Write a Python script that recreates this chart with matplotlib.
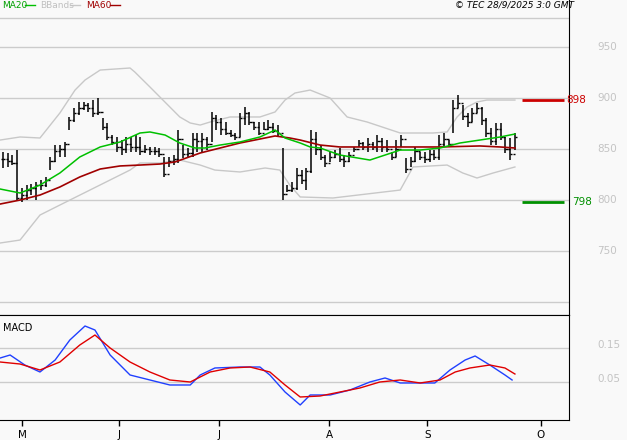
import matplotlib
matplotlib.use("Agg")
import matplotlib.pyplot as plt
import numpy as np

# ---- data ----
highs = [847.3,845.7,844.0,849.0,811.4,814.6,816.2,817.9,819.5,822.8,842.4,853.8,853.8,857.1,881.6,889.8,896.4,896.4,894.7,898.0,
         899.6,880.0,875.1,863.7,862.0,858.8,862.0,862.0,863.7,862.0,853.8,852.2,852.2,850.6,842.4,842.4,844.0,868.6,853.8,850.6,
         865.3,865.3,865.3,862.0,886.5,883.3,880.0,876.7,868.6,865.3,884.9,891.4,886.5,876.7,876.7,876.7,878.4,875.1,873.5,850.6,
         814.6,817.9,831.0,829.3,831.0,868.6,867.0,853.8,844.0,847.3,849.0,850.6,844.0,847.3,852.2,858.8,857.1,860.4,857.1,863.7,
         860.4,858.8,847.3,858.8,863.7,840.8,842.4,852.2,847.3,847.3,849.0,849.0,863.7,865.3,858.8,898.0,902.9,893.1,884.9,889.8,
         894.7,891.4,880.0,870.2,875.1,875.1,862.0,860.4,865.3]
lows = [831.0,832.6,834.2,800.0,798.3,800.0,804.8,800.0,809.7,813.0,829.3,837.5,842.4,842.4,868.6,876.7,883.3,888.2,886.5,881.6,
        883.3,868.6,858.8,853.8,847.3,844.0,845.7,847.3,847.3,844.0,845.7,844.0,844.0,842.4,822.8,832.6,834.2,835.9,840.8,842.4,
        842.4,847.3,847.3,849.0,857.1,868.6,863.7,863.7,862.0,858.8,862.0,873.5,873.5,868.6,863.7,868.6,868.6,865.3,862.0,800.0,
        808.1,808.1,809.7,816.2,809.7,826.1,844.0,839.2,832.6,837.5,840.8,837.5,832.6,837.5,847.3,852.2,849.0,847.3,849.0,847.3,
        847.3,847.3,839.2,842.4,852.2,826.1,832.6,837.5,839.2,835.9,837.5,839.2,839.2,852.2,852.2,865.3,889.8,878.4,871.9,876.7,
        884.9,873.5,862.0,853.8,853.8,858.8,845.7,839.2,849.0]
closes = [840,838,836,802,805,810,812,815,815,820,838,848,850,855,878,885,890,893,890,885,
          886,872,862,857,852,850,855,852,852,848,850,848,848,845,826,838,840,860,845,846,
          860,858,860,855,880,876,870,866,864,862,880,885,876,872,866,870,872,868,866,806,
          810,812,825,820,828,860,850,842,836,842,845,840,838,844,850,856,852,855,852,858,
          852,850,842,850,860,830,838,848,842,840,845,842,855,860,855,890,895,882,876,885,
          890,878,866,858,870,862,850,845,862]

line_x = [-0.6,3.6,7.8,12.0,16.2,20.5,24.7,28.9,31.0,34.2,37.3,40.5,42.6,45.8,50.0,54.2,57.4,59.5,62.7,64.8,
          66.9,71.1,77.4,80.6,83.8,88.0,92.2,96.4,100.6,104.9,108.0]
ma20 = [810.8,806.9,814.7,826.5,842.2,852.0,856.9,865.7,866.7,863.7,855.9,851.0,851.0,853.9,856.9,861.8,868.6,860.8,855.9,852.0,
        851.0,844.1,839.2,844.1,849.0,849.0,851.0,855.9,858.8,861.8,864.7]
ma60_x = [-0.6,3.6,7.8,12.0,16.2,20.5,24.7,28.9,33.1,36.3,41.6,45.8,50.0,54.2,57.4,60.5,62.7,66.9,71.1,79.5,92.2,100.6,104.9,108.0]
ma60 = [796.1,800.0,804.9,812.8,822.6,830.4,833.4,834.3,835.3,837.3,846.1,851.0,855.9,859.8,862.8,860.8,858.8,853.9,852.0,852.0,852.0,853.0,852.0,851.0]
bbu_x = [-0.6,3.6,7.8,12.0,15.2,17.3,20.5,26.8,27.8,31.0,35.2,37.3,39.5,41.6,43.7,47.9,54.2,57.4,59.5,61.6,64.8,69.0,72.6,76.8,83.8,90.7,93.7,95.8,97.9,100.0,102.1,108.0]
bbu = [858.8,861.8,860.8,885.3,907.8,917.6,927.4,929.4,925.5,910.8,891.2,881.4,875.5,873.5,876.5,881.4,881.4,886.3,898.0,904.9,907.8,900.0,881.4,876.5,865.7,865.7,866.7,881.4,891.2,896.1,898.0,898.0]
bbl_x = [-0.6,3.6,7.8,12.0,26.8,28.9,33.1,37.3,41.6,44.7,50.0,55.3,58.4,60.5,62.7,69.6,83.8,86.5,93.7,97.0,100.0,103.4,108.0]
bbl = [757.9,760.8,785.3,795.1,829.4,836.3,836.3,839.2,834.3,829.4,827.5,831.4,829.4,814.7,803.0,802.0,809.8,832.4,834.3,826.5,821.6,826.5,832.4]

macd_x = [-0.6,1.5,4.6,7.8,11.0,14.1,17.3,19.4,22.6,26.8,31.0,35.2,39.5,41.6,44.7,50.0,54.2,56.3,59.5,62.7,64.8,69.0,73.2,77.4,80.6,83.8,88.0,91.1,94.3,97.5,99.6,102.7,105.9,107.4]
macd = [0.1206,0.1294,0.1,0.0794,0.1147,0.1735,0.2147,0.2029,0.1294,0.0706,0.0559,0.0412,0.0412,0.0706,0.0912,0.0941,0.0941,0.0706,0.0206,-0.0176,0.0118,0.0118,0.0265,0.05,0.0618,0.0471,0.0471,0.0471,0.0853,0.1147,0.1265,0.1,0.0706,0.0559]
sig_x = [-0.6,3.6,7.8,12.0,16.2,19.4,22.6,26.8,31.0,35.2,39.5,43.7,47.9,52.1,56.3,59.5,62.7,66.9,71.1,75.3,79.5,83.8,88.0,92.2,95.4,98.5,102.7,105.9,108.0]
sig = [0.1088,0.1029,0.0853,0.1088,0.1588,0.1882,0.15,0.1088,0.0794,0.0559,0.05,0.0794,0.0912,0.0941,0.0794,0.0412,0.0059,0.0088,0.0206,0.0324,0.05,0.0559,0.0471,0.0559,0.0794,0.0912,0.1,0.0912,0.0735]

price_ticks = [950, 900, 850, 800, 750, 700]
macd_ticks = [0.15, 0.05]
month_pos = [4.0, 24.5, 45.6, 68.8, 89.5, 113.5]
month_labels = ["M", "J", "J", "A", "S", "O"]
resist, support = 898, 798

# ---- figure ----
W, H = 627, 440
bg = "#f9f9f9"
fig = plt.figure(figsize=(W/100, H/100), dpi=100, facecolor=bg)
pitch = 4.74
x0 = -3/pitch
x1 = x0 + 569/pitch

ax = fig.add_axes([0, 1-315/H, 569/W, 315/H], facecolor=bg)
ax2 = fig.add_axes([0, 1-420/H, 569/W, 105/H], facecolor=bg)

p_top = 900 + 98*0.98
p_bot = 900 - 217*0.98
ax.set_xlim(x0, x1); ax.set_ylim(p_bot, p_top)
for t in price_ticks:
    ax.axhline(t, color="#cccccc", lw=1)
    if t != 700:
        ax.text(1.05, t, str(t), transform=ax.get_yaxis_transform(), color="#c4c4c4", fontsize=7.5, va="center", ha="left", clip_on=False)
ax.axhline(p_top - 18*0.98, color="#cccccc", lw=1)

idx = np.arange(len(highs))
ax.plot(bbu_x, bbu, color="#c8c8c8", lw=1)
ax.plot(bbl_x, bbl, color="#c8c8c8", lw=1)
ax.vlines(idx, lows, highs, color="black", lw=1.1)
opens = [closes[0]] + closes[:-1]
ax.hlines(closes, idx, idx+0.45, color="black", lw=1)
ax.hlines(opens, idx-0.45, idx, color="black", lw=1)
ax.plot(ma60_x, ma60, color="#a00000", lw=1.2)
ax.plot(line_x, ma20, color="#00c000", lw=1.1)

ax.hlines(resist, 109.5, 118.3, color="#cc0000", lw=2)
ax.hlines(support, 109.5, 118.3, color="#009000", lw=2)
ax.text(0.995, resist, str(resist), transform=ax.get_yaxis_transform(), color="#cc0000", fontsize=7.5, va="center", ha="left", clip_on=False)
ax.text(1.005, support, str(support), transform=ax.get_yaxis_transform(), color="#009000", fontsize=7.5, va="center", ha="left", clip_on=False)

ax2.set_xlim(x0, x1)
ax2.set_ylim(0.05 - 38/340, 0.05 + 67/340)
for t in macd_ticks:
    ax2.axhline(t, color="#cccccc", lw=1)
    ax2.text(1.05, t + 0.01, f"{t:.2f}", transform=ax2.get_yaxis_transform(), color="#c4c4c4", fontsize=7.5, va="center", ha="left", clip_on=False)
ax2.plot(macd_x, macd, color="#2040ff", lw=1)
ax2.plot(sig_x, sig, color="#e00000", lw=1)
ax2.text(0.005, 0.88, "MACD", transform=ax2.transAxes, fontsize=7, va="center", ha="left")

for a in (ax, ax2):
    a.set_xticks([]); a.set_yticks([])
    for s in ("left", "top"):
        a.spines[s].set_visible(False)
    a.spines["right"].set_color("black")
    a.spines["bottom"].set_color("black")
ax2.set_xticks(month_pos)
ax2.set_xticklabels(month_labels, fontsize=7.5)
ax2.tick_params(axis="x", length=4, width=1, pad=3, direction="out")
ax2.spines["top"].set_visible(True)
ax2.spines["top"].set_color("black")

fig.text(2/W, 1-5/H, "MA20", color="#00a000", fontsize=6.5, va="center")
fig.lines.append(plt.Line2D([25/W, 35/W], [1-5/H, 1-5/H], color="#00c000", lw=1, transform=fig.transFigure))
fig.text(40/W, 1-5/H, "BBands", color="#c0c0c0", fontsize=6.5, va="center")
fig.lines.append(plt.Line2D([70/W, 80/W], [1-5/H, 1-5/H], color="#c8c8c8", lw=1, transform=fig.transFigure))
fig.text(86/W, 1-5/H, "MA60", color="#a00000", fontsize=6.5, va="center")
fig.lines.append(plt.Line2D([110/W, 120/W], [1-5/H, 1-5/H], color="#a00000", lw=1, transform=fig.transFigure))
fig.text(574/W, 1-5/H, "© TEC 28/9/2025 3:0 GMT", fontsize=6.5, style="italic", va="center", ha="right")

fig.savefig("out.png", dpi=100, facecolor=bg)
